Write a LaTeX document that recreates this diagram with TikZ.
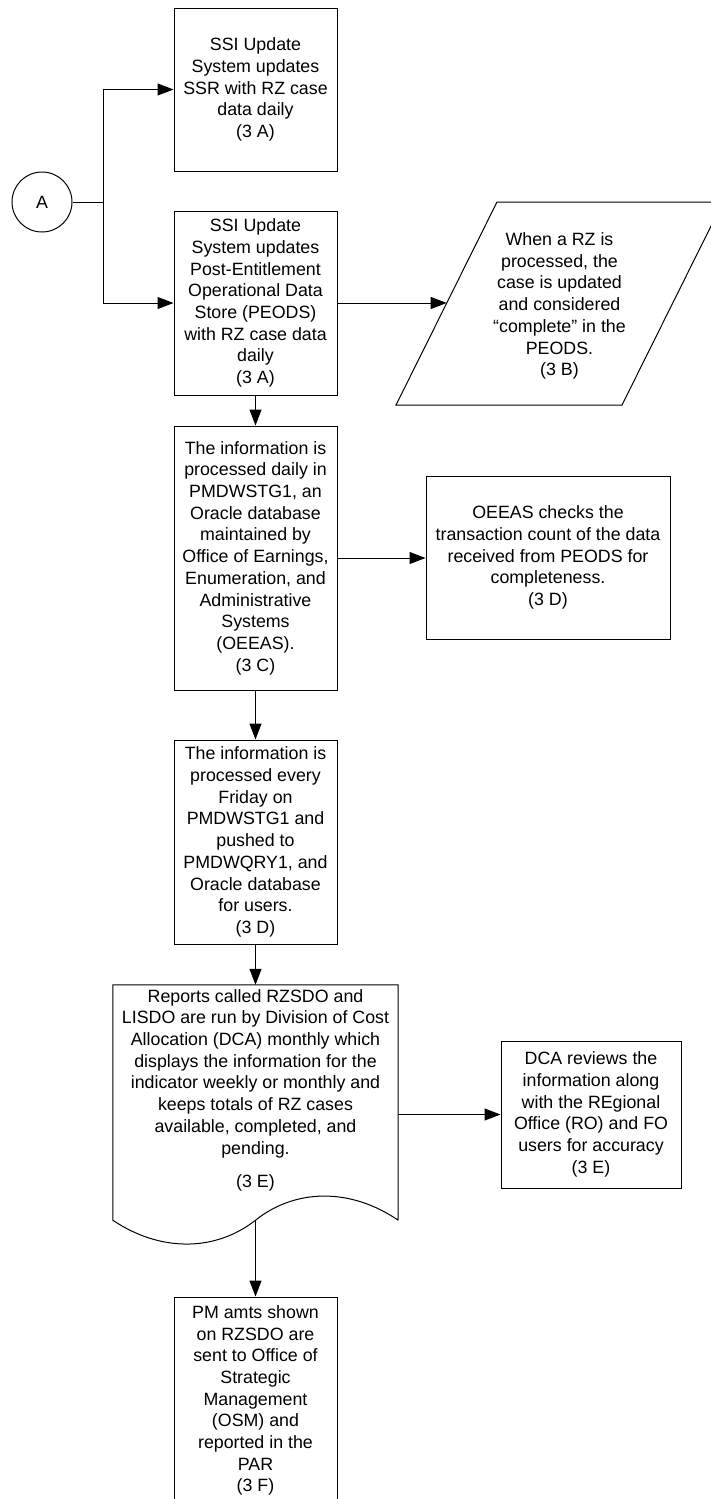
\documentclass[tikz,border=0pt]{standalone}
\usepackage{fontspec}
\setmainfont{Liberation Sans}
\usetikzlibrary{arrows.meta}
\begin{document}
\begin{tikzpicture}[x=1pt,y=-1pt,
  every node/.style={font=\fontsize{17.8pt}{21.7pt}\selectfont, inner sep=0pt, align=center},
  procbox/.style={draw=black, line width=1pt, minimum width=#1},
  arr/.style={line width=1pt, -{Triangle[length=16pt,width=12pt]}},
  ln/.style={line width=1pt}]
\useasboundingbox (0,0) rectangle (711,1499);
\clip (0,0) rectangle (711,1499);
\fill[white] (0,0) rectangle (711,1499);

% connector circle
\node[circle, draw=black, line width=1pt, minimum size=60pt] (A) at (42,202) {A};
\coordinate (jn) at (103,202);

% boxes
\node[procbox=163pt, minimum height=163pt] (b1) at (255.5,89.5)
  {SSI Update\\System updates\\SSR with RZ case\\data daily\\(3 A)};
\node[procbox=163pt, minimum height=184pt] (b2) at (255.5,303)
  {SSI Update\\System updates\\Post-Entitlement\\Operational Data\\Store (PEODS)\\with RZ case data\\daily\\(3 A)};

% parallelogram (data)
\draw[ln] (497,202) -- (723,202) -- (622,405) -- (396,405) -- cycle;
\node (pb) at (559.5,306)
  {When a RZ is\\processed, the\\case is updated\\and considered\\“complete” in the\\PEODS.\\(3 B)};
\coordinate (pin) at (446.7,303);

\node[procbox=163pt, minimum height=264pt] (b3) at (255.5,558)
  {The information is\\processed daily in\\PMDWSTG1, an\\Oracle database\\maintained by\\Office of Earnings,\\Enumeration, and\\Administrative\\Systems\\(OEEAS).\\(3 C)};
\node[procbox=244pt, minimum height=163pt] (oe) at (548,557.5)
  {OEEAS checks the\\transaction count of the data\\received from PEODS for\\completeness.\\(3 D)};

\node[procbox=163pt, minimum height=204pt] (b4) at (255.5,842)
  {The information is\\processed every\\Friday on\\PMDWSTG1 and\\pushed to\\PMDWQRY1, and\\Oracle database\\for users.\\(3 D)};

% document shape
\node[minimum width=285pt, minimum height=235pt] (doc) at (255.5,1102.5) {};
\draw[ln] (doc.south east) -- (doc.north east) -- (doc.north west) -- (doc.south west)
  .. controls (160,1252) and (215,1252) .. (doc.south)
  .. controls (296,1188) and (351,1188) .. (doc.south east);
\node (doctxt) at (255.5,1090)
  {Reports called RZSDO and\\LISDO are run by Division of Cost\\Allocation (DCA) monthly which\\displays the information for the\\indicator weekly or monthly and\\keeps totals of RZ cases\\available, completed, and\\pending.\\[11.3pt](3 E)};

\node[procbox=180pt, minimum height=147pt] (dca) at (591,1114.5)
  {DCA reviews the\\information along\\with the REgional\\Office (RO) and FO\\users for accuracy\\(3 E)};

\node[procbox=163pt, minimum height=207pt] (b6) at (255.5,1400.5)
  {PM amts shown\\on RZSDO are\\sent to Office of\\Strategic\\Management\\(OSM) and\\reported in the\\PAR\\(3 F)};

% connectors
\draw[ln] (A.east) -- (jn);
\draw[arr] (jn) |- (b1.west);
\draw[arr] (jn) |- (b2.west);
\draw[arr] (b2.east) -- (pin);
\draw[arr] (b2.south) -- (b3.north);
\draw[arr] (b3.east) -- (b3.east -| oe.west);
\draw[arr] (b3.south) -- (b4.north);
\draw[arr] (b4.south) -- (doc.north);
\draw[arr] (doc.east |- dca.west) -- (dca.west);
\draw[arr] (doc.south) -- (b6.north);
\end{tikzpicture}
\end{document}
